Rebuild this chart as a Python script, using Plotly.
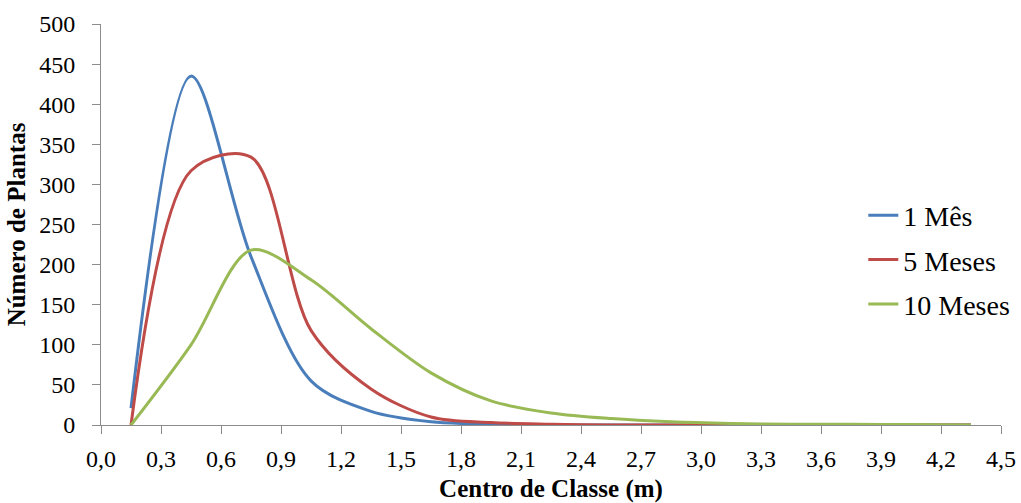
import plotly.graph_objects as go

x_centers = [0.15, 0.45, 0.75, 1.05, 1.35, 1.65, 1.95, 2.25, 2.55, 2.85, 3.15, 3.45, 3.75, 4.05, 4.35]
mes_1 = [21, 435, 210, 55, 17, 4, 1, 0, 0, 0, 0, 0, 0, 0, 0]
meses_5 = [0, 317, 334, 118, 45, 10, 3, 1, 0, 0, 0, 0, 0, 0, 0]
meses_10 = [0, 100, 218, 181, 120, 65, 30, 15, 8, 4, 2, 1, 1, 0.5, 0]

series_names = ["1 Mês", "5 Meses", "10 Meses"]
series_colors = ["#4A7EBB", "#BE4B48", "#98B954"]

x_tickvals = [0.0, 0.3, 0.6, 0.9, 1.2, 1.5, 1.8, 2.1, 2.4, 2.7, 3.0, 3.3, 3.6, 3.9, 4.2, 4.5]
x_ticktext = ["0,0", "0,3", "0,6", "0,9", "1,2", "1,5", "1,8", "2,1", "2,4", "2,7", "3,0", "3,3", "3,6", "3,9", "4,2", "4,5"]
y_tickvals = [0, 50, 100, 150, 200, 250, 300, 350, 400, 450, 500]

font_family = "Liberation Serif"

fig = go.Figure()
for i, (name, ys, col) in enumerate(zip(series_names, [mes_1, meses_5, meses_10], series_colors)):
    fig.add_trace(go.Scatter(
        x=x_centers, y=ys, name=name, mode="lines",
        line=dict(color=col, width=3, shape="spline", smoothing=0.9),
        legendgroup=f"g{i}",
    ))

fig.update_layout(
    width=1021, height=503,
    margin=dict(l=101, r=20, t=24, b=78, autoexpand=False),
    plot_bgcolor="white", paper_bgcolor="white",
    font=dict(family=font_family, size=24, color="black"),
    showlegend=True,
    legend=dict(
        x=0.847, y=0.4115, xanchor="left", yanchor="middle",
        font=dict(family=font_family, size=28, color="black"),
        traceorder="grouped", tracegroupgap=5,
        bgcolor="rgba(0,0,0,0)", itemwidth=30,
    ),
    xaxis=dict(
        range=[0, 4.5], tickvals=x_tickvals, ticktext=x_ticktext,
        showgrid=False, zeroline=False, automargin=True,
        showline=True, linecolor="#8c8c8c", linewidth=1,
        ticks="outside", ticklen=8, tickcolor="#8c8c8c",
        ticklabelstandoff=4,
        tickfont=dict(family=font_family, size=24),
        title=dict(text="<b>Centro de Classe (m)</b>", font=dict(family=font_family, size=25), standoff=10),
    ),
    yaxis=dict(
        range=[0, 500], tickvals=y_tickvals,
        showgrid=False, zeroline=False, automargin=True,
        showline=True, linecolor="#8c8c8c", linewidth=1,
        ticks="outside", ticklen=8, tickcolor="#8c8c8c",
        ticklabelstandoff=12,
        tickfont=dict(family=font_family, size=24),
        title=dict(text="<b>Número de Plantas</b>", font=dict(family=font_family, size=25), standoff=6),
    ),
)

fig.write_html("out.html")
